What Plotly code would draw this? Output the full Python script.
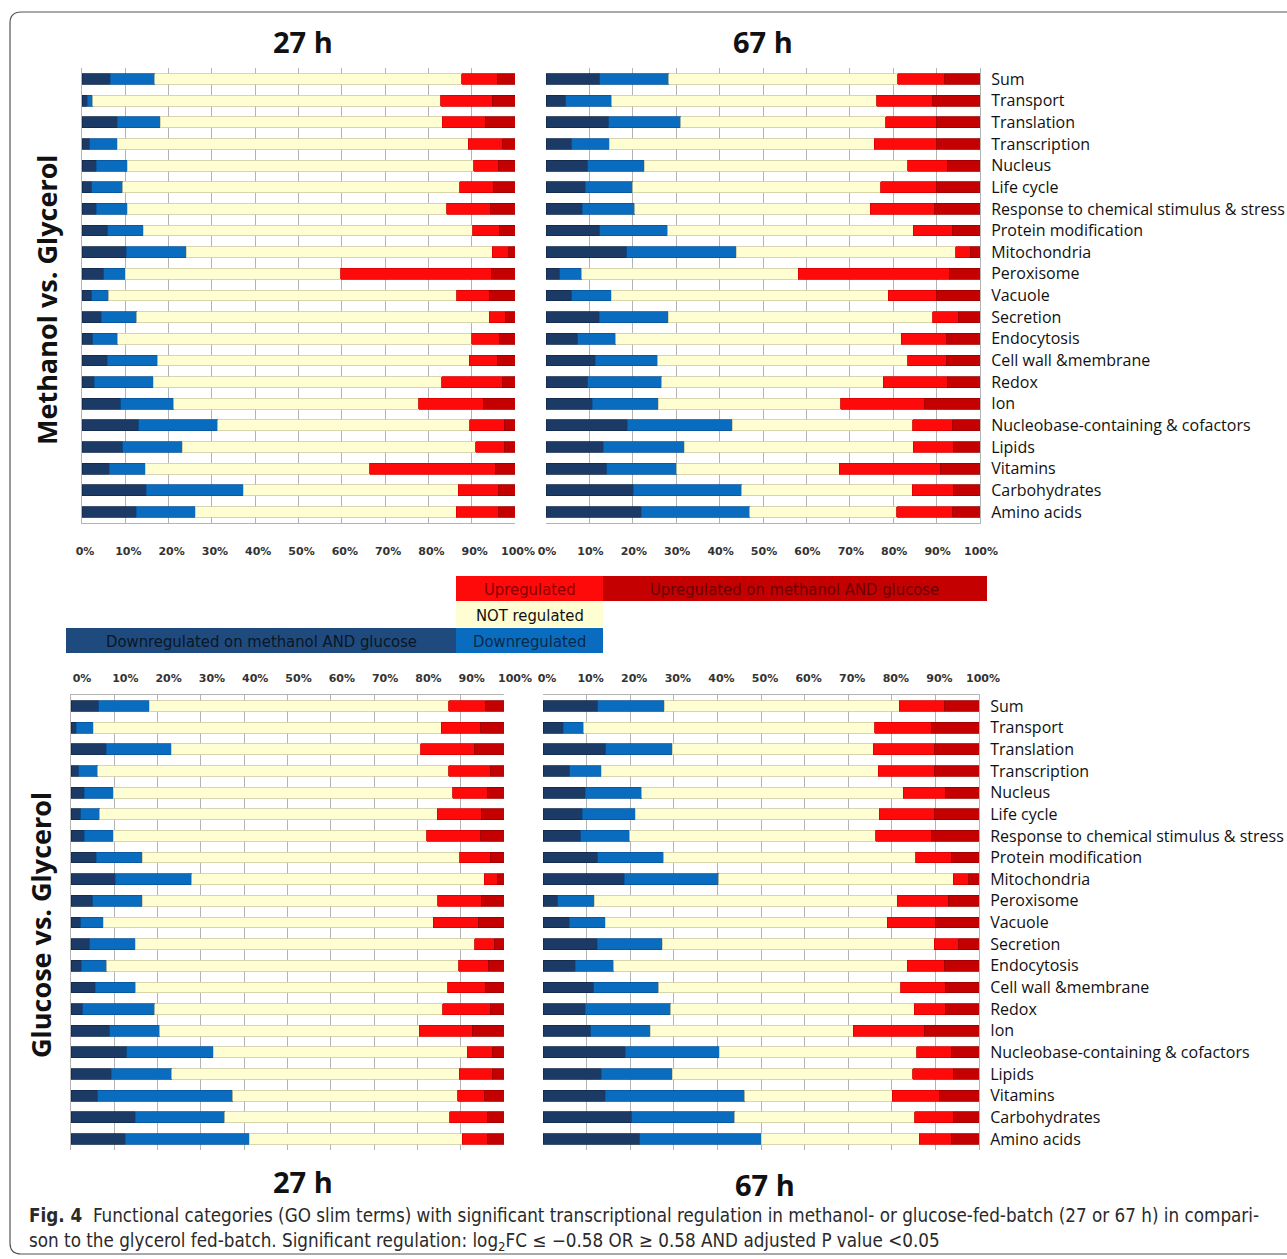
import plotly.graph_objects as go

W, H = 1287, 1259

categories = [
    "Sum", "Transport", "Translation", "Transcription", "Nucleus", "Life cycle",
    "Response to chemical stimulus & stress", "Protein modification", "Mitochondria",
    "Peroxisome", "Vacuole", "Secretion", "Endocytosis", "Cell wall &membrane", "Redox",
    "Ion", "Nucleobase-containing & cofactors", "Lipids", "Vitamins", "Carbohydrates",
    "Amino acids",
]

tick_vals = [0, 10, 20, 30, 40, 50, 60, 70, 80, 90, 100]
tick_text = ["0%", "10%", "20%", "30%", "40%", "50%", "60%", "70%", "80%", "90%", "100%"]

# Share of genes per category (%) in each regulation class
# Methanol vs. Glycerol, 27 h
meoh27_down_both = [6.5, 1.2, 8.1, 1.8, 3.3, 2.2, 3.3, 5.9, 10.2, 5.0, 2.3, 4.4, 2.5, 5.8, 2.8, 9.0, 13.1, 9.4, 6.3, 14.8, 12.5]
meoh27_down = [10.3, 1.3, 10.0, 6.3, 7.1, 7.2, 7.2, 8.3, 13.9, 5.0, 3.9, 8.3, 5.8, 11.7, 13.7, 12.2, 18.2, 13.7, 8.3, 22.4, 13.7]
meoh27_not = [70.9, 80.3, 65.1, 81.1, 80.1, 77.8, 73.7, 76.0, 70.7, 49.8, 80.3, 81.4, 81.7, 71.9, 66.6, 56.6, 58.3, 67.8, 51.8, 49.7, 60.2]
meoh27_up = [8.3, 12.0, 9.9, 8.0, 5.7, 7.8, 10.2, 6.3, 3.7, 34.8, 7.6, 3.6, 6.5, 6.6, 14.1, 14.9, 7.9, 6.6, 29.0, 9.3, 9.8]
meoh27_up_both = [4.0, 5.2, 6.9, 2.8, 3.8, 5.0, 5.6, 3.5, 1.5, 5.4, 5.9, 2.3, 3.5, 4.0, 2.8, 7.3, 2.5, 2.5, 4.6, 3.8, 3.8]

# Methanol vs. Glycerol, 67 h
meoh67_down_both = [12.4, 4.6, 14.4, 5.9, 9.6, 9.0, 8.4, 12.4, 18.6, 3.2, 5.9, 12.3, 7.3, 11.3, 9.6, 10.7, 18.7, 13.2, 14.0, 20.1, 22.0]
meoh67_down = [15.9, 10.5, 16.6, 8.7, 13.0, 11.0, 12.0, 15.6, 25.2, 5.0, 9.1, 15.9, 8.8, 14.4, 17.1, 15.2, 24.2, 18.6, 16.1, 25.0, 24.9]
meoh67_not = [52.7, 61.1, 47.3, 61.0, 60.7, 57.1, 54.3, 56.6, 50.6, 49.9, 63.9, 60.9, 65.7, 57.6, 51.0, 42.0, 41.6, 52.8, 37.5, 39.3, 33.9]
meoh67_up = [10.9, 12.9, 11.6, 14.3, 9.2, 12.8, 14.8, 9.1, 3.3, 34.8, 11.1, 5.9, 10.5, 9.0, 14.8, 19.4, 9.2, 9.3, 23.2, 9.6, 12.9]
meoh67_up_both = [8.1, 10.9, 10.1, 10.1, 7.5, 10.1, 10.5, 6.3, 2.3, 7.1, 10.0, 5.0, 7.7, 7.7, 7.5, 12.7, 6.3, 6.1, 9.2, 6.0, 6.3]

# Glucose vs. Glycerol, 27 h
glc27_down_both = [6.4, 1.2, 8.1, 1.8, 3.1, 2.2, 3.1, 5.8, 10.2, 5.0, 2.2, 4.3, 2.4, 5.6, 2.7, 8.9, 12.9, 9.3, 6.2, 14.8, 12.5]
glc27_down = [11.7, 3.9, 15.0, 4.4, 6.7, 4.4, 6.7, 10.6, 17.7, 11.5, 5.2, 10.5, 5.8, 9.4, 16.6, 11.6, 19.9, 14.0, 31.2, 20.7, 28.7]
glc27_not = [69.1, 80.4, 57.7, 81.0, 78.4, 78.0, 72.4, 73.4, 67.5, 68.2, 76.3, 78.5, 81.3, 72.0, 66.5, 59.9, 58.7, 66.4, 51.9, 52.0, 49.2]
glc27_up = [8.6, 9.1, 12.3, 9.6, 8.0, 10.2, 12.4, 7.0, 3.1, 10.0, 10.4, 4.4, 6.9, 8.8, 11.0, 12.3, 5.8, 7.6, 6.3, 8.7, 5.8]
glc27_up_both = [4.2, 5.4, 6.9, 3.2, 3.8, 5.2, 5.4, 3.2, 1.5, 5.3, 5.9, 2.3, 3.6, 4.2, 3.2, 7.3, 2.7, 2.7, 4.4, 3.8, 3.8]

# Glucose vs. Glycerol, 67 h
glc67_down_both = [12.5, 4.7, 14.4, 6.1, 9.7, 9.0, 8.6, 12.5, 18.6, 3.4, 6.0, 12.4, 7.4, 11.6, 9.7, 10.9, 18.9, 13.4, 14.3, 20.3, 22.2]
glc67_down = [15.3, 4.7, 15.2, 7.3, 12.9, 12.2, 11.3, 15.2, 21.7, 8.3, 8.3, 14.9, 8.8, 14.9, 19.6, 13.7, 21.5, 16.3, 32.0, 23.7, 27.8]
glc67_not = [53.9, 66.7, 46.1, 63.5, 60.0, 55.9, 56.4, 57.8, 53.8, 69.6, 64.7, 62.4, 67.3, 55.6, 55.8, 46.6, 45.3, 55.1, 33.8, 41.3, 36.3]
glc67_up = [10.3, 12.9, 14.0, 12.8, 9.8, 12.6, 12.8, 8.1, 3.5, 11.7, 11.1, 5.6, 8.5, 10.2, 7.2, 16.2, 8.0, 9.3, 10.9, 8.8, 7.3]
glc67_up_both = [8.0, 11.0, 10.3, 10.3, 7.6, 10.3, 10.9, 6.4, 2.4, 7.0, 9.9, 4.7, 8.0, 7.7, 7.7, 12.6, 6.3, 5.9, 9.0, 5.9, 6.4]

class_names = [
    "Downregulated on methanol AND glucose", "Downregulated", "NOT regulated",
    "Upregulated", "Upregulated on methanol AND glucose",
]
class_colors = ["#1B3A66", "#0A6CBF", "#FFFDD2", "#FF0A0A", "#C40000"]
class_lines = ["#12294a", "#08559a", "#cfcaa0", "#d60000", "#9a0000"]

panels = [
    # (data, x-axis id, y-axis id, x px range, first/last row centre px,
    #  category labels shown, tick side, tick label shift)
    ([meoh27_down_both, meoh27_down, meoh27_not, meoh27_up, meoh27_up_both], "x", "y", (82, 515), (79, 512), False, "bottom", 3),
    ([meoh67_down_both, meoh67_down, meoh67_not, meoh67_up, meoh67_up_both], "x2", "y2", (546, 980), (79, 512), True, "bottom", 1),
    ([glc27_down_both, glc27_down, glc27_not, glc27_up, glc27_up_both], "x3", "y3", (71, 504), (706, 1139), False, "top", 11),
    ([glc67_down_both, glc67_down, glc67_not, glc67_up, glc67_up_both], "x4", "y4", (543, 979), (706, 1139), True, "top", 4),
]


def px_x(v):
    return v / W


def px_y(v):
    return 1 - v / H


fig = go.Figure()
layout_axes = {}
for series, xa, ya, (x0, x1), (r0, r1), show_cats, tick_side, shift in panels:
    for name, vals, col, lc in zip(class_names, series, class_colors, class_lines):
        fig.add_trace(go.Bar(
            y=categories, x=vals, orientation="h", name=name,
            marker=dict(color=col, line=dict(color=lc, width=0.8)),
            xaxis=xa, yaxis=ya, showlegend=False,
            hovertemplate="%{y}: %{x:.1f}%<extra>" + name + "</extra>",
        ))
    step = (r1 - r0) / (len(categories) - 1)
    top, bot = r0 - step / 2, r1 + step / 2
    xkey = "xaxis" + xa[1:]
    ykey = "yaxis" + ya[1:]
    layout_axes[xkey] = dict(
        domain=[px_x(x0), px_x(x1)], anchor=ya, range=[0, 100], automargin=False,
        tickvals=tick_vals, ticktext=tick_text, side=tick_side,
        showgrid=True, gridcolor="#b4b4b4", gridwidth=1,
        showline=True, linecolor="#b4b4b4", linewidth=1, zeroline=False,
        tickfont=dict(family="DejaVu Sans", size=11, color="#333333", weight="bold"),
        ticklabelstandoff=18 if tick_side == "bottom" else 8,
        ticklabelshift=shift, fixedrange=True,
    )
    layout_axes[ykey] = dict(
        domain=[px_y(bot), px_y(top)], anchor=xa, autorange="reversed", automargin=False,
        showgrid=False, showline=True, linecolor="#b4b4b4", linewidth=1,
        side="right" if show_cats else "left", showticklabels=show_cats,
        ticks="", ticklabelstandoff=7,
        tickfont=dict(family="Open Sans", size=16, color="#111111"),
        fixedrange=True,
    )

fig.update_layout(**layout_axes)

annotations = []


def add_text(text, x, y, size, family="Open Sans", weight="bold", angle=0,
             color="#111111", xanchor="center", yanchor="middle"):
    annotations.append(dict(
        text=text, x=px_x(x), y=px_y(y), xref="paper", yref="paper",
        showarrow=False, textangle=angle, xanchor=xanchor, yanchor=yanchor,
        font=dict(family=family, size=size, color=color, weight=weight),
    ))


# Time-point headings
add_text("27 h", 303, 42, 29)
add_text("67 h", 763, 42, 29)
add_text("27 h", 303, 1181, 29)
add_text("67 h", 765, 1184, 29)

# Comparison headings
add_text("Methanol vs. Glycerol", 47, 300, 27, angle=-90)
add_text("Glucose vs. Glycerol", 40, 925, 27, angle=-90)

# Colour key
narrow = "Liberation Sans Narrow, DejaVu Sans Condensed, Arial Narrow, sans-serif"
key_boxes = [
    # (x0, y0, x1, y1, fill, label, text colour)
    (456, 576, 603, 601, "#FF0A0A", "Upregulated", "#8a0000"),
    (603, 576, 987, 601, "#C40000", "Upregulated on methanol AND glucose", "#6a0000"),
    (456, 602, 603, 627, "#FFFDD2", "NOT regulated", "#111111"),
    (66, 628, 456, 653, "#1F4A7D", "Downregulated on methanol AND glucose", "#0b1626"),
    (456, 628, 603, 653, "#0A6CBF", "Downregulated", "#0b2a4a"),
]
shapes = []
for x0, y0, x1, y1, fill, label, tcol in key_boxes:
    shapes.append(dict(type="rect", xref="paper", yref="paper",
                       x0=px_x(x0), x1=px_x(x1), y0=px_y(y1), y1=px_y(y0),
                       fillcolor=fill, line=dict(width=0), layer="below"))
    add_text(label, (x0 + x1) / 2, (y0 + y1) / 2 + 1, 16.5, family=narrow,
             weight="normal", color=tcol)

# Caption
add_text("<b>Fig. 4</b>  Functional categories (GO slim terms) with significant transcriptional "
         "regulation in methanol- or glucose-fed-batch (27 or 67 h) in compari-",
         27, 1215, 18.7, family=narrow, weight="normal", color="#2a2a2a", xanchor="left")
add_text("son to the glycerol fed-batch. Significant regulation: log<sub>2</sub>FC \u2264 \u22120.58 OR "
         "\u2265 0.58 AND adjusted P value &lt;0.05",
         27, 1242, 18.7, family=narrow, weight="normal", color="#2a2a2a", xanchor="left")

# Rounded frame around the figure
r = 11
frame = (f"M {px_x(1300)},{px_y(12)} L {px_x(10 + r)},{px_y(12)} "
         f"Q {px_x(10)},{px_y(12)} {px_x(10)},{px_y(12 + r)} "
         f"L {px_x(10)},{px_y(1254 - r)} Q {px_x(10)},{px_y(1254)} {px_x(10 + r)},{px_y(1254)} "
         f"L {px_x(1300)},{px_y(1254)}")
shapes.append(dict(type="path", xref="paper", yref="paper", path=frame,
                   line=dict(color="#555555", width=1.2)))

fig.update_layout(
    width=W, height=H, margin=dict(l=0, r=0, t=0, b=0, autoexpand=False),
    paper_bgcolor="white", plot_bgcolor="white",
    barmode="stack", bargap=0.5, showlegend=False,
    annotations=annotations, shapes=shapes,
)

fig.write_html("out.html")
